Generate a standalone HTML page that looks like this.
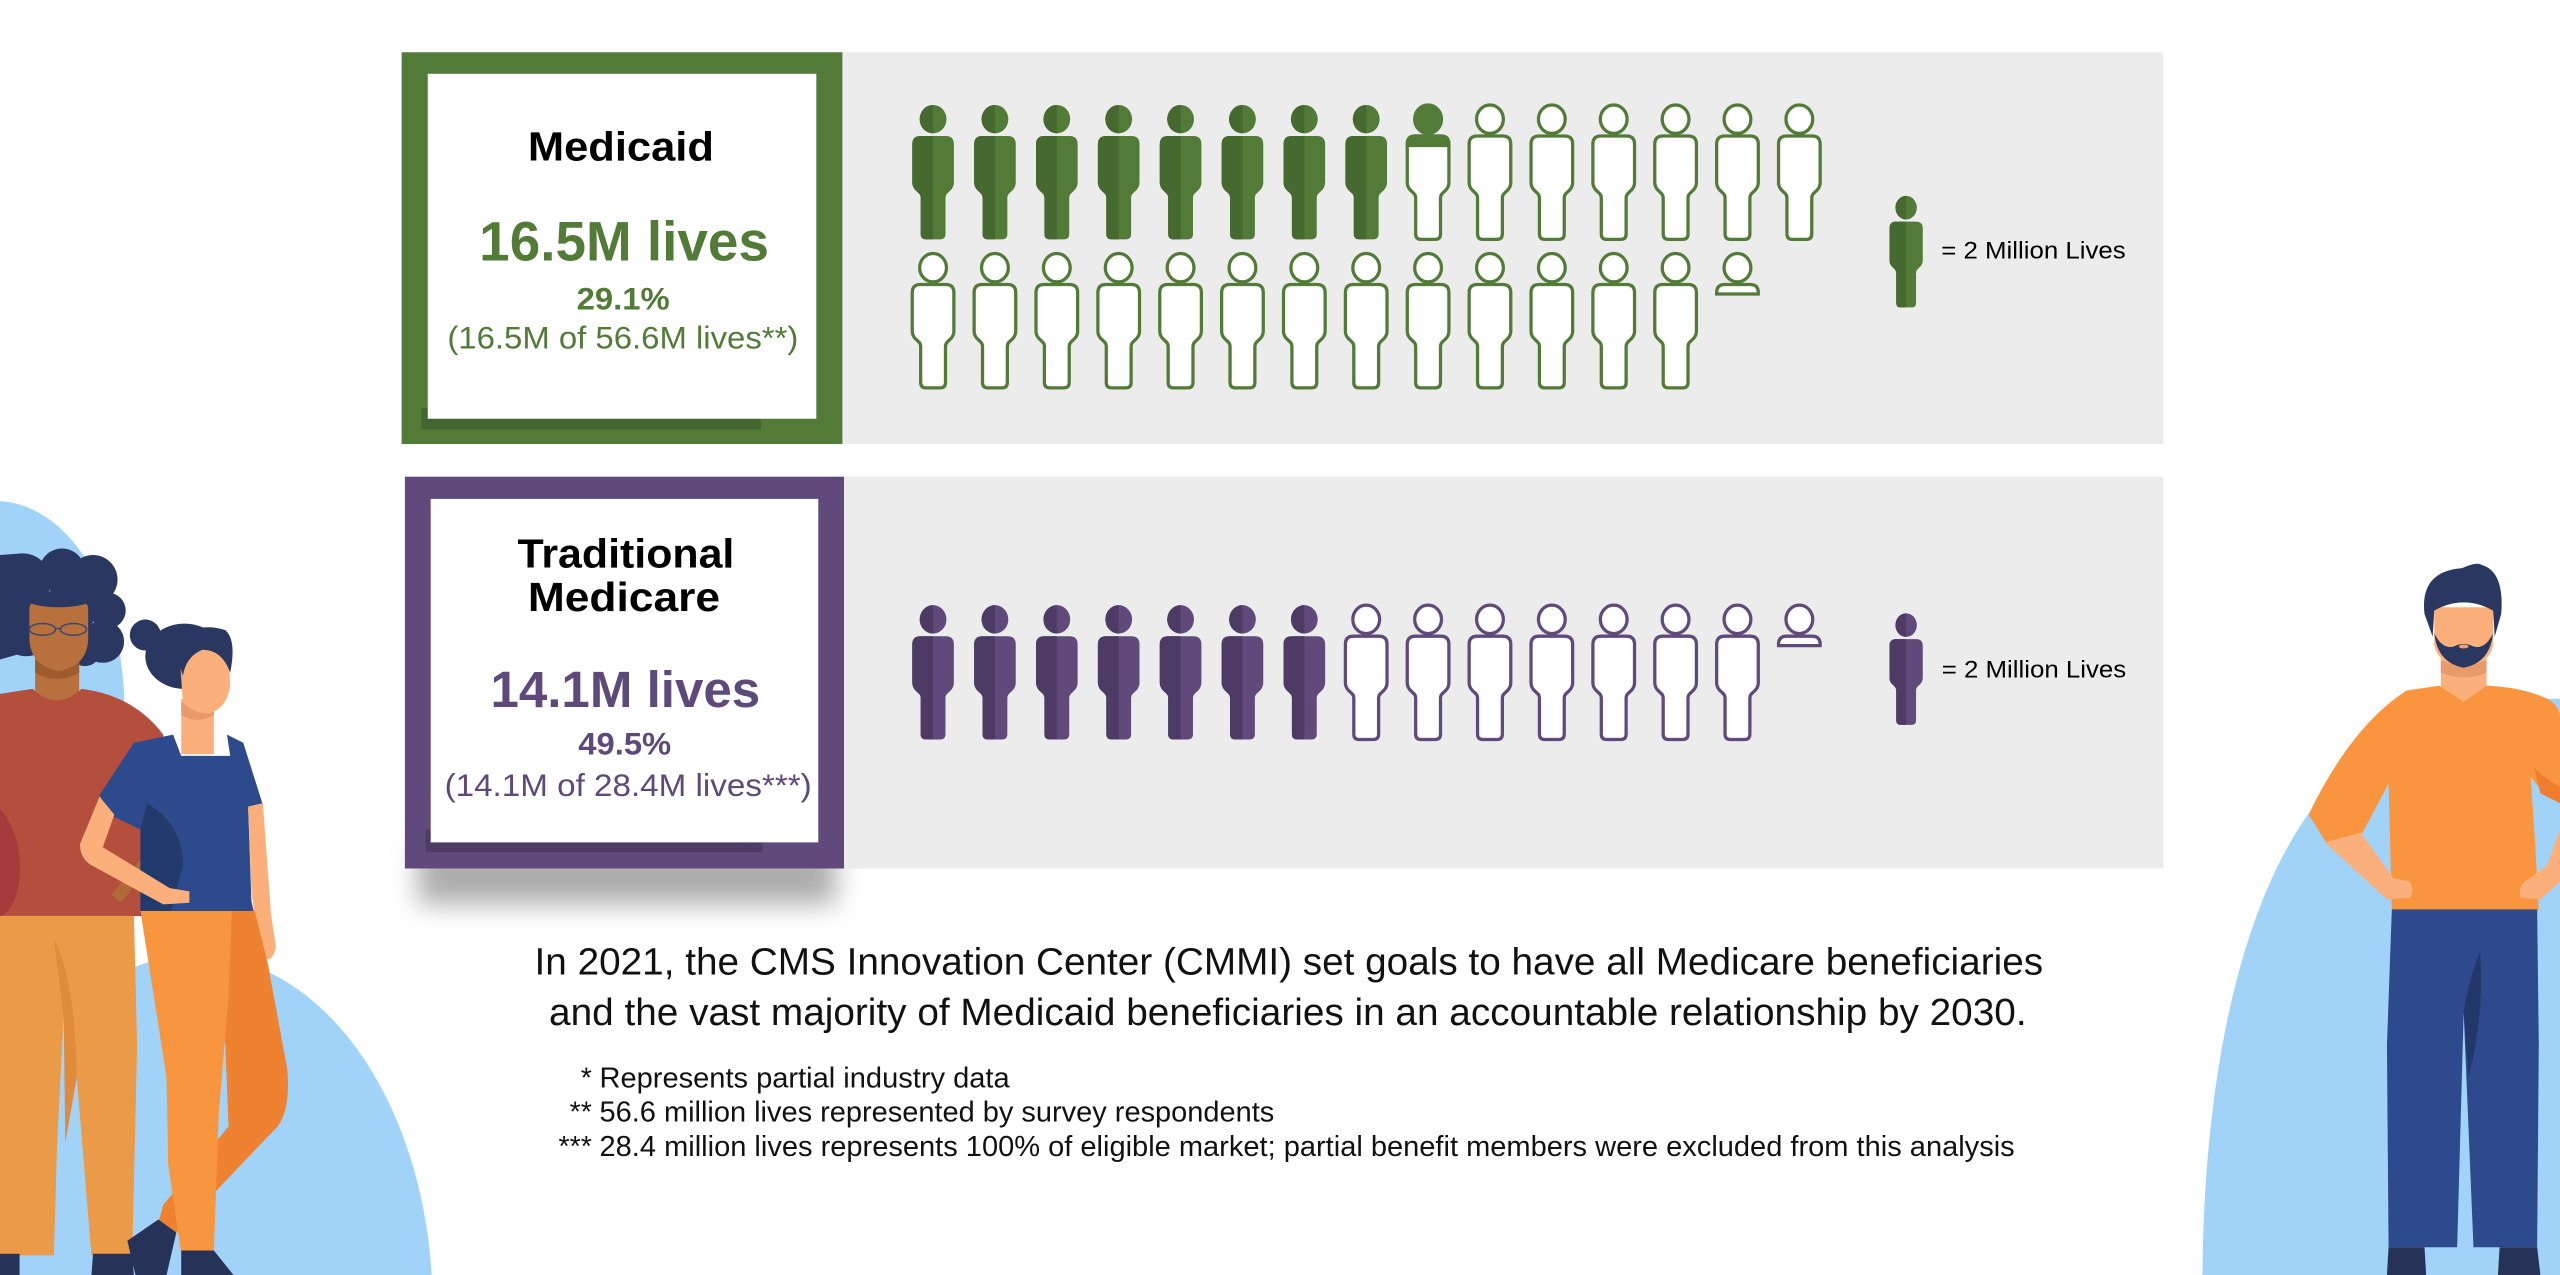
<!DOCTYPE html>
<html>
<head>
<meta charset="utf-8">
<style>
html,body{margin:0;padding:0;background:#fff;overflow:hidden;width:2560px;height:1275px;}
svg{display:block;position:absolute;left:0;top:0;overflow:hidden;}
text{font-family:"Liberation Sans",Arial,sans-serif;}
</style>
</head>
<body>
<svg width="2560" height="1275" viewBox="0 0 1568 781" preserveAspectRatio="none" xmlns="http://www.w3.org/2000/svg">
<defs>
  <path id="bd" d="M-12.75,24 Q-12.75,19 -7.75,19 L7.75,19 Q12.75,19 12.75,24 L12.75,47.5 Q12.75,50 11,52 L8.6,54.3 Q7.6,55.3 7.6,57 L7.6,79 Q7.6,82.3 4.3,82.3 L-4.3,82.3 Q-7.6,82.3 -7.6,79 L-7.6,57 Q-7.6,55.3 -8.6,54.3 L-11,52 Q-12.75,50 -12.75,47.5 Z"/>
  <path id="bdL" d="M0,19 L-7.75,19 Q-12.75,19 -12.75,24 L-12.75,47.5 Q-12.75,50 -11,52 L-8.6,54.3 Q-7.6,55.3 -7.6,57 L-7.6,79 Q-7.6,82.3 -4.3,82.3 L0,82.3 Z"/>
  <path id="hdL" d="M0,0 A8.2,8.7 0 0 0 0,17.4 Z"/>
  <path id="sh" d="M-12.75,24.8 L-12.75,24 Q-12.75,19 -7.75,19 L7.75,19 Q12.75,19 12.75,24 L12.75,24.8 Z"/>

  <g id="gf">
    <use href="#bd" fill="#527b38"/>
    <ellipse cx="0" cy="8.7" rx="8.2" ry="8.7" fill="#527b38"/>
    <use href="#bdL" fill="#45692f"/>
    <use href="#hdL" fill="#45692f"/>
  </g>
  <g id="go">
    <use href="#bd" fill="#ffffff" stroke="#527b38" stroke-width="2"/>
    <ellipse cx="0" cy="8.7" rx="8.2" ry="8.7" fill="#ffffff" stroke="#527b38" stroke-width="2"/>
  </g>
  <g id="gp">
    <use href="#bd" fill="#ffffff" stroke="#527b38" stroke-width="2"/>
    <use href="#sh" fill="#527b38" stroke="#527b38" stroke-width="2"/>
    <ellipse cx="0" cy="8.7" rx="8.2" ry="8.7" fill="#527b38" stroke="#527b38" stroke-width="2"/>
  </g>
  <g id="gs">
    <use href="#sh" fill="#ffffff" stroke="#527b38" stroke-width="2"/>
    <ellipse cx="0" cy="8.7" rx="8.2" ry="8.7" fill="#ffffff" stroke="#527b38" stroke-width="2"/>
  </g>

  <g id="pf">
    <use href="#bd" fill="#604a7b"/>
    <ellipse cx="0" cy="8.7" rx="8.2" ry="8.7" fill="#604a7b"/>
    <use href="#bdL" fill="#4d3b65"/>
    <use href="#hdL" fill="#4d3b65"/>
  </g>
  <g id="po">
    <use href="#bd" fill="#ffffff" stroke="#604a7b" stroke-width="2"/>
    <ellipse cx="0" cy="8.7" rx="8.2" ry="8.7" fill="#ffffff" stroke="#604a7b" stroke-width="2"/>
  </g>
  <g id="ps">
    <use href="#sh" fill="#ffffff" stroke="#604a7b" stroke-width="2"/>
    <ellipse cx="0" cy="8.7" rx="8.2" ry="8.7" fill="#ffffff" stroke="#604a7b" stroke-width="2"/>
  </g>

  <filter id="blur" x="-30%" y="-100%" width="160%" height="300%">
    <feGaussianBlur stdDeviation="8"/>
  </filter>
</defs>

<!-- background blobs -->
<path d="M0,307 C36,309 72,350 76,425 L86,781 L0,781 Z" fill="#a1d3f9"/>
<path d="M0,781 L0,679.3 A145,215 0 0 1 264.4,781 Z" fill="#a1d3f9"/>
<path d="M1349,781 C1350,640 1380,520 1440,470 C1480,440 1530,428 1568,428 L1568,781 Z" fill="#a1d3f9"/>

<!-- ===== MEDICAID PANEL ===== -->
<rect x="246" y="32" width="270" height="240" fill="#527b38"/>
<rect x="516" y="32" width="809" height="240" fill="#ececec"/>
<rect x="258" y="250" width="208" height="13" fill="#43652e"/>
<rect x="262" y="45.2" width="238" height="211.3" fill="#ffffff"/>

<text x="323.3" y="98.2" font-size="25" font-weight="bold" fill="#000" textLength="114" lengthAdjust="spacingAndGlyphs">Medicaid</text>
<text x="293.5" y="159.5" font-size="34" font-weight="bold" fill="#527b38" textLength="177.5" lengthAdjust="spacingAndGlyphs">16.5M lives</text>
<text x="353.2" y="189.7" font-size="19" font-weight="bold" fill="#527b38" textLength="57" lengthAdjust="spacingAndGlyphs">29.1%</text>
<text x="274" y="213.5" font-size="19.5" fill="#527b38" textLength="215" lengthAdjust="spacingAndGlyphs">(16.5M of 56.6M lives**)</text>

<!-- row 1 -->
<use href="#gf" x="571.5" y="64.3"/>
<use href="#gf" x="609.4" y="64.3"/>
<use href="#gf" x="647.3" y="64.3"/>
<use href="#gf" x="685.2" y="64.3"/>
<use href="#gf" x="723.1" y="64.3"/>
<use href="#gf" x="761.0" y="64.3"/>
<use href="#gf" x="798.9" y="64.3"/>
<use href="#gf" x="836.8" y="64.3"/>
<use href="#gp" x="874.7" y="64.3"/>
<use href="#go" x="912.6" y="64.3"/>
<use href="#go" x="950.5" y="64.3"/>
<use href="#go" x="988.4" y="64.3"/>
<use href="#go" x="1026.3" y="64.3"/>
<use href="#go" x="1064.2" y="64.3"/>
<use href="#go" x="1102.1" y="64.3"/>
<!-- row 2 -->
<use href="#go" x="571.5" y="155.3"/>
<use href="#go" x="609.4" y="155.3"/>
<use href="#go" x="647.3" y="155.3"/>
<use href="#go" x="685.2" y="155.3"/>
<use href="#go" x="723.1" y="155.3"/>
<use href="#go" x="761.0" y="155.3"/>
<use href="#go" x="798.9" y="155.3"/>
<use href="#go" x="836.8" y="155.3"/>
<use href="#go" x="874.7" y="155.3"/>
<use href="#go" x="912.6" y="155.3"/>
<use href="#go" x="950.5" y="155.3"/>
<use href="#go" x="988.4" y="155.3"/>
<use href="#go" x="1026.3" y="155.3"/>
<use href="#gs" x="1064.2" y="155.3"/>

<!-- legend -->
<g transform="translate(1167.5,120) scale(0.8,0.83)"><use href="#gf"/></g>
<text x="1189" y="158.3" font-size="15" fill="#000" textLength="113" lengthAdjust="spacingAndGlyphs">= 2 Million Lives</text>

<!-- ===== MEDICARE PANEL ===== -->
<rect x="256" y="518" width="256" height="36" fill="#6a6a6a" opacity="0.55" filter="url(#blur)"/>
<rect x="248" y="292" width="269" height="240" fill="#604a7b"/>
<rect x="517" y="292" width="808" height="240" fill="#ececec"/>
<rect x="260.6" y="508" width="206.4" height="14" fill="#4f3c66"/>
<rect x="263.8" y="305.6" width="237.4" height="210.4" fill="#ffffff"/>

<text x="317" y="347.7" font-size="25" font-weight="bold" fill="#000" textLength="132.8" lengthAdjust="spacingAndGlyphs">Traditional</text>
<text x="323.3" y="374.2" font-size="25" font-weight="bold" fill="#000" textLength="117.7" lengthAdjust="spacingAndGlyphs">Medicare</text>
<text x="300.4" y="433.1" font-size="31.5" font-weight="bold" fill="#5e4a7a" textLength="165.2" lengthAdjust="spacingAndGlyphs">14.1M lives</text>
<text x="354.2" y="462.2" font-size="19" font-weight="bold" fill="#5e4a7a" textLength="56.9" lengthAdjust="spacingAndGlyphs">49.5%</text>
<text x="272.3" y="487.6" font-size="19.5" fill="#5e4a7a" textLength="224.9" lengthAdjust="spacingAndGlyphs">(14.1M of 28.4M lives***)</text>

<use href="#pf" x="571.5" y="370.7"/>
<use href="#pf" x="609.4" y="370.7"/>
<use href="#pf" x="647.3" y="370.7"/>
<use href="#pf" x="685.2" y="370.7"/>
<use href="#pf" x="723.1" y="370.7"/>
<use href="#pf" x="761.0" y="370.7"/>
<use href="#pf" x="798.9" y="370.7"/>
<use href="#po" x="836.8" y="370.7"/>
<use href="#po" x="874.7" y="370.7"/>
<use href="#po" x="912.6" y="370.7"/>
<use href="#po" x="950.5" y="370.7"/>
<use href="#po" x="988.4" y="370.7"/>
<use href="#po" x="1026.3" y="370.7"/>
<use href="#po" x="1064.2" y="370.7"/>
<use href="#ps" x="1102.1" y="370.7"/>

<g transform="translate(1167.5,375.7) scale(0.8,0.83)"><use href="#pf"/></g>
<text x="1189.3" y="414.9" font-size="15" fill="#000" textLength="113" lengthAdjust="spacingAndGlyphs">= 2 Million Lives</text>

<!-- ===== BOTTOM TEXT ===== -->
<text x="327.4" y="597" font-size="23.5" fill="#111" textLength="924" lengthAdjust="spacingAndGlyphs">In 2021, the CMS Innovation Center (CMMI) set goals to have all Medicare beneficiaries</text>
<text x="336.3" y="628" font-size="23.5" fill="#111" textLength="905" lengthAdjust="spacingAndGlyphs">and the vast majority of Medicaid beneficiaries in an accountable relationship by 2030.</text>

<text x="362.5" y="666" font-size="17.5" fill="#111" text-anchor="end">*</text>
<text x="367.2" y="666" font-size="17.5" fill="#111" textLength="251.2" lengthAdjust="spacingAndGlyphs">Represents partial industry data</text>
<text x="362.5" y="687" font-size="17.5" fill="#111" text-anchor="end">**</text>
<text x="367.2" y="687" font-size="17.5" fill="#111" textLength="413.3" lengthAdjust="spacingAndGlyphs">56.6 million lives represented by survey respondents</text>
<text x="362.5" y="708" font-size="17.5" fill="#111" text-anchor="end">***</text>
<text x="367.2" y="708" font-size="17.5" fill="#111" textLength="866.8" lengthAdjust="spacingAndGlyphs">28.4 million lives represents 100% of eligible market; partial benefit members were excluded from this analysis</text>

<!-- ===== PERSON A (afro woman) ===== -->
<g fill="#2a3760">
  <circle cx="14" cy="356" r="17"/>
  <circle cx="38" cy="350" r="14"/>
  <circle cx="57" cy="355" r="15"/>
  <circle cx="66" cy="374" r="11"/>
  <circle cx="63" cy="393" r="13"/>
  <circle cx="16" cy="386" r="16"/>
  <circle cx="20" cy="372" r="14"/>
  <circle cx="45" cy="372" r="15"/>
  <circle cx="52" cy="398" r="10"/>
  <path d="M0,340 L14,339 L14,400 L0,404 Z"/>
</g>
<rect x="21.5" y="402" width="27" height="30" fill="#b8703c"/>
<path d="M21.5,404 L48.5,404 L48.5,412 Q35,420 21.5,412 Z" fill="#9e5c2d"/>
<path d="M18,373 Q18,369 22,369 L50,369 Q54,369 54,373 L54,392 Q53,408 36,411 Q19,408 18,392 Z" fill="#b8703c"/>
<ellipse cx="36" cy="367" rx="20" ry="5" fill="#2a3760"/>
<g fill="none" stroke="#3c4670" stroke-width="0.9">
  <ellipse cx="26" cy="385.5" rx="8" ry="3.6"/>
  <ellipse cx="45" cy="385.5" rx="8" ry="3.6"/>
  <line x1="34" y1="385" x2="37" y2="385"/>
</g>
<path d="M0,425 L20,422 Q35,436 50,422 Q82,426 100,450 L102,561 L0,562 Z" fill="#b44f3e"/>
<path d="M0,495 Q14,512 12,538 Q10,556 0,562 Z" fill="#a73b3b"/>
<path d="M0,561 L82,561 L84,640 L81,769 L56,769 L47,660 L39,622 L35,700 L33,769 L0,769 Z" fill="#eb9b48"/>
<path d="M33,575 Q46,600 47,660 L40,700 L39,622 Z" fill="#e08a3b"/>
<rect x="0" y="768" width="12" height="13" fill="#263257"/>
<path d="M57,768 L81,768 L82,781 L56,781 Z" fill="#263257"/>
<path d="M68,548 L95,516 L99,521 L74,553 Z" fill="#b06a37"/>

<!-- ===== PERSON B (woman in blue) ===== -->
<circle cx="89" cy="389" r="9.5" fill="#2a3760"/>
<ellipse cx="113" cy="402" rx="24" ry="20" fill="#2a3760"/>
<rect x="111" y="428" width="20" height="34" fill="#fbb07c"/>
<path d="M111,430 L131,430 L131,438 Q121,444 111,438 Z" fill="#e99a6a"/>
<path d="M110,401 Q124,392 140,400 L141,420 Q139,434 128,437 Q118,437 112,430 Z" fill="#fbb07c"/>
<path d="M106,394 Q120,380 138,386 Q145,392 141,412 Q136,398 124,398 Q114,402 112,414 Z" fill="#2a3760"/>
<path d="M61,487 L82,455 L106,450 L111,463 L141,463 L139,450 L149,455 L161,493 L152,495 L154,552 L156,561 L86,561 L86,508 L67,499 Z" fill="#2c4a8c"/>
<path d="M90,492 Q112,505 112,530 L104,561 L86,561 L86,508 Z" fill="#223a6c"/>
<path d="M61,488 L49,517 Q49,526 56,530 L100,554 L116,553 L116,546 L104,544 L63,519 L70,499 Z" fill="#fbb07c"/>
<path d="M152,494 L161,492 L166,560 L169,580 Q167,590 161,587 L157,570 L154,545 Z" fill="#fbb07c"/>
<path d="M130,558 L156,558 L164,590 L176,655 Q178,680 170,690 L108,755 L97,749 L100,738 L140,690 L138,640 Z" fill="#ee8231"/>
<path d="M86,558 L142,558 L140,610 L134,682 L131,766 L111,768 L103,713 L102,660 Z" fill="#f8963f"/>
<path d="M97,747 L108,755 L102,781 L83,781 L78,760 Z" fill="#263257"/>
<path d="M111,766 L131,766 L143,781 L111,781 Z" fill="#263257"/>

<!-- ===== PERSON C (man) ===== -->
<path d="M1495,403 L1523,403 L1523,428 L1509,432 L1495,428 Z" fill="#fbb07c"/>
<path d="M1495,405 L1523,405 L1523,412 Q1509,418 1495,412 Z" fill="#e99a6a"/>
<path d="M1491,372 L1527,372 L1527,395 Q1525,407 1509,408 Q1493,407 1491,395 Z" fill="#fbb07c"/>
<path d="M1485,376 Q1482,350 1508,348 Q1517,344 1520,346 Q1534,350 1532,376 L1528,390 L1527,374 Q1509,364 1491,374 L1490,390 Z" fill="#2a3760"/>
<path d="M1491,388 Q1493,406 1509,409 Q1525,406 1527,388 Q1522,398 1515,396 Q1509,393 1503,396 Q1496,398 1491,388 Z" fill="#2a3760"/>
<ellipse cx="1509" cy="396" rx="3" ry="1.2" fill="#f4a070"/>
<path d="M1494,420 L1509,430 L1523,420 Q1545,421 1560,428 Q1568,432 1568,440 L1568,490 L1560,488 L1550,476 L1553,520 L1555,558 L1465,558 L1463,480 L1446,512 L1426,518 L1414,499 Q1440,445 1474,423 Z" fill="#f9953f"/>
<path d="M1552,470 Q1560,478 1568,482 L1568,492 L1556,486 Z" fill="#ee7d2d"/>
<path d="M1424,516 L1446,510 L1466,538 L1476,540 Q1479,546 1476,550 L1462,551 Z" fill="#fbb07c"/>
<path d="M1568,508 L1568,540 L1556,551 L1544,550 Q1542,542 1548,539 L1560,530 Z" fill="#fbb07c"/>
<path d="M1465,557 L1554,557 L1555,640 L1554,764 L1515,764 L1509,620 L1505,764 L1463,764 L1462,640 Z" fill="#2c4a8c"/>
<path d="M1519,583 Q1512,600 1509,620 L1512,660 Q1522,620 1519,583 Z" fill="#22386a"/>
<path d="M1463,764 L1485,764 L1486,781 L1462,781 Z" fill="#263257"/>
<path d="M1531,764 L1554,764 L1556,781 L1530,781 Z" fill="#263257"/>
</svg>
</body>
</html>
